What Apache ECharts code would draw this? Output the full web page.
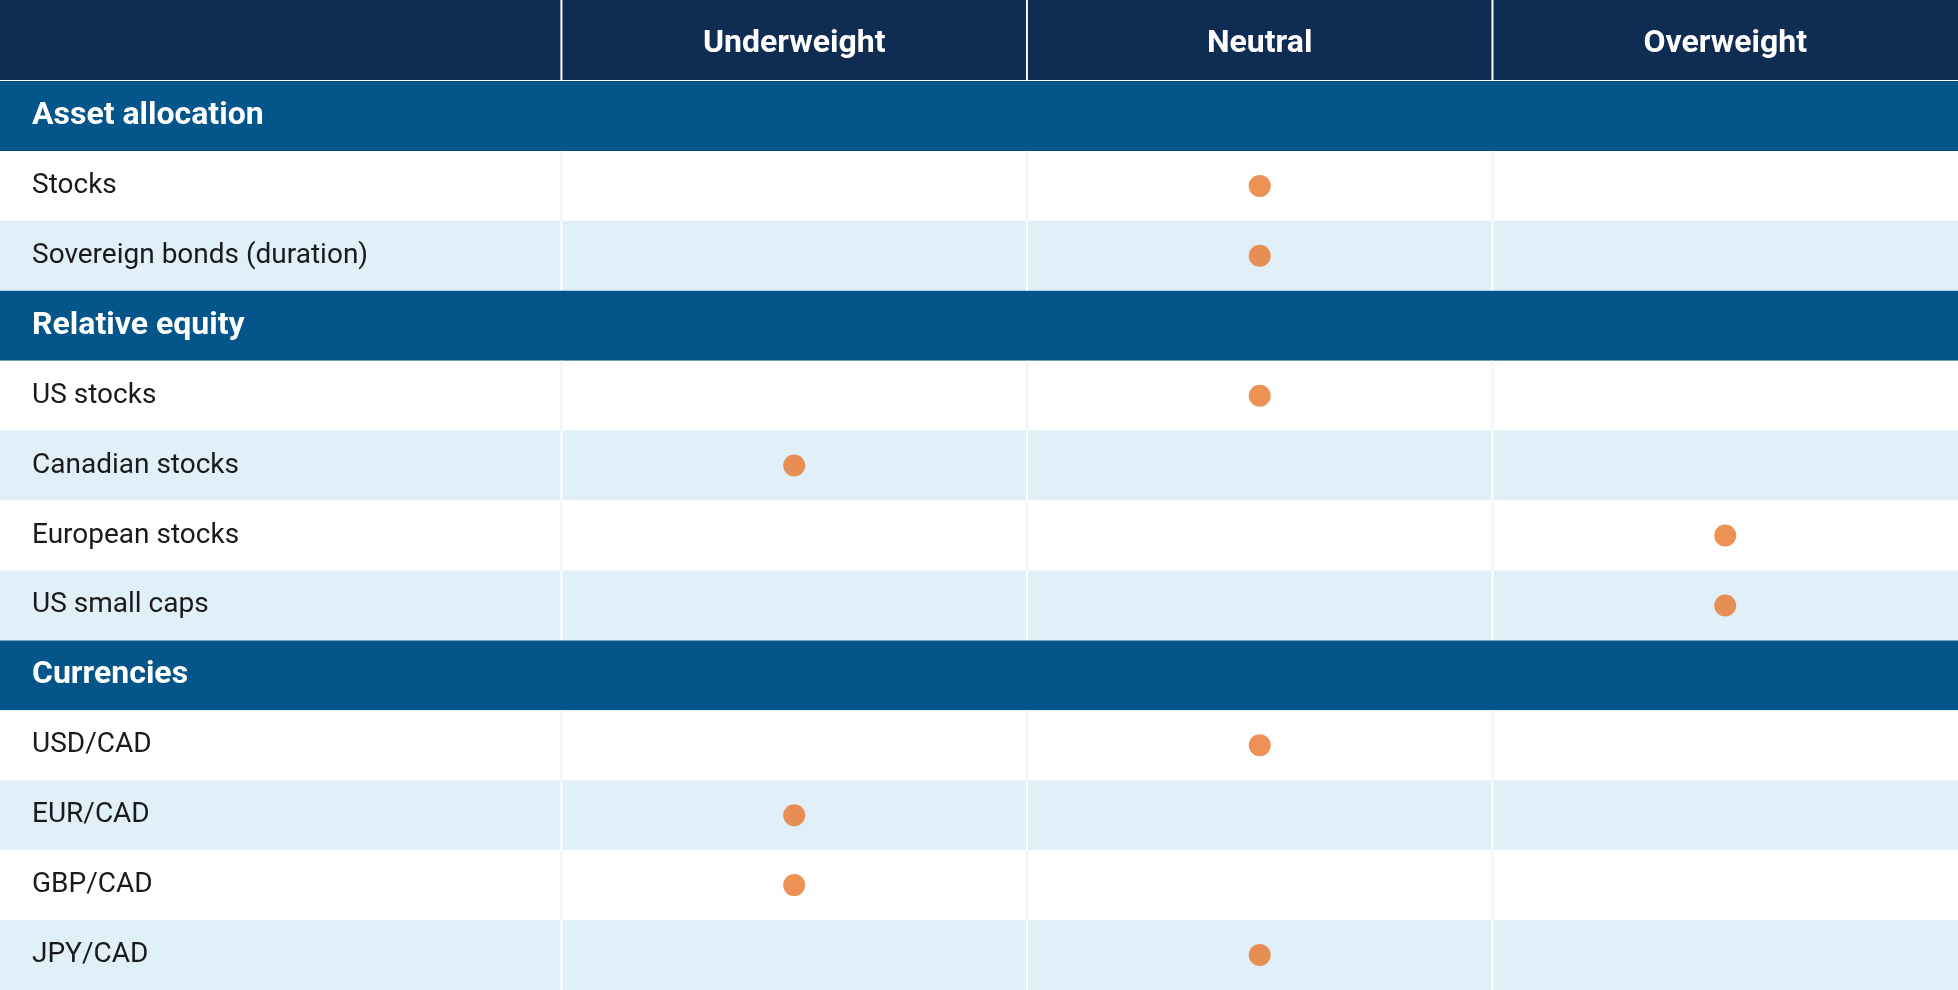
<!DOCTYPE html>
<html>
<head>
<meta charset="utf-8">
<script src="https://cdn.jsdelivr.net/npm/echarts@6/dist/echarts.min.js"></script>
<style>
  html, body { margin: 0; padding: 0; background: #fff; }
  #chart { width: 1958px; height: 990px; }
</style>
</head>
<body>
<div id="chart"></div>
<script>
var FONT = '"Liberation Sans Narrow", "Roboto", sans-serif';
var columns = ['Underweight', 'Neutral', 'Overweight'];
var rows = ['Asset allocation', 'Stocks', 'Sovereign bonds (duration)', 'Relative equity',
    'US stocks', 'Canadian stocks', 'European stocks', 'US small caps', 'Currencies',
    'USD/CAD', 'EUR/CAD', 'GBP/CAD', 'JPY/CAD'];
var sections = ['Asset allocation', 'Relative equity', 'Currencies'];
// position: 1 = underweight, 2 = neutral, 3 = overweight
var positions = [null, 2, 2, null, 2, 1, 3, 3, null, 2, 1, 1, 2];

var chart = echarts.init(document.getElementById('chart'));

var bandData = rows.map(function (r, i) { return [i]; });
var dotData = [];
positions.forEach(function (p, i) {
    if (p !== null) dotData.push([p, i]);
});

var shade = 0;
var bandStyle = rows.map(function (r) {
    if (sections.indexOf(r) >= 0) { shade = 0; return 'section'; }
    shade++;
    return shade % 2 === 1 ? 'white' : 'light';
});

var option = {
    animation: false,
    grid: { left: 0, right: 0, top: 81, bottom: 0 },
    xAxis: { type: 'value', min: -0.706, max: 3.5, show: false },
    yAxis: { type: 'category', data: rows, inverse: true, show: false },
    series: [
        {
            type: 'custom',
            data: bandData,
            renderItem: function (params, api) {
                var i = api.value(0);
                var size = api.size([0, 1]);
                var top = api.coord([0, i])[1] - size[1] / 2;
                var h = size[1];
                var w = params.coordSys.width;
                var kind = bandStyle[i];
                var children = [];
                var fill = kind === 'section' ? '#03558a' : (kind === 'light' ? '#e1eff8' : '#ffffff');
                children.push({ type: 'rect', shape: { x: 0, y: top, width: w, height: h }, style: { fill: fill } });
                if (kind !== 'section') {
                    [0.5, 1.5, 2.5].forEach(function (b) {
                        var x = api.coord([b, i])[0];
                        children.push({ type: 'rect', shape: { x: x - 1, y: top, width: 2, height: h },
                            style: { fill: kind === 'light' ? '#ffffff' : '#eef4f9' } });
                    });
                }
                children.push({
                    type: 'text',
                    style: {
                        x: 32, y: top + h / 2, text: rows[i], verticalAlign: 'middle',
                        fill: kind === 'section' ? '#ffffff' : '#1a1a1a',
                        font: (kind === 'section' ? 'bold 32px ' : '28px ') + FONT
                    }
                });
                return { type: 'group', children: children };
            },
            z: 1
        },
        {
            type: 'scatter',
            data: dotData,
            symbolSize: 22,
            itemStyle: { color: '#e8762b' },
            z: 3
        }
    ]
};
chart.setOption(option);

// header bar with column titles
var graphics = [
    { type: 'rect', shape: { x: 0, y: 0, width: 1958, height: 81 }, style: { fill: '#0f2c52' } },
    { type: 'rect', shape: { x: 0, y: 80, width: 1958, height: 2 }, style: { fill: '#ffffff' } }
];
[0.5, 1.5, 2.5].forEach(function (b) {
    var x = chart.convertToPixel({ gridIndex: 0 }, [b, 0])[0];
    graphics.push({ type: 'rect', shape: { x: x - 1, y: 0, width: 2, height: 81 }, style: { fill: '#ffffff' } });
});
columns.forEach(function (c, k) {
    var x = chart.convertToPixel({ gridIndex: 0 }, [k + 1, 0])[0];
    graphics.push({
        type: 'text',
        style: { x: x, y: 44, text: c, align: 'center', verticalAlign: 'middle',
            fill: '#ffffff', font: 'bold 32px ' + FONT }
    });
});
chart.setOption({ graphic: graphics });
</script>
</body>
</html>
